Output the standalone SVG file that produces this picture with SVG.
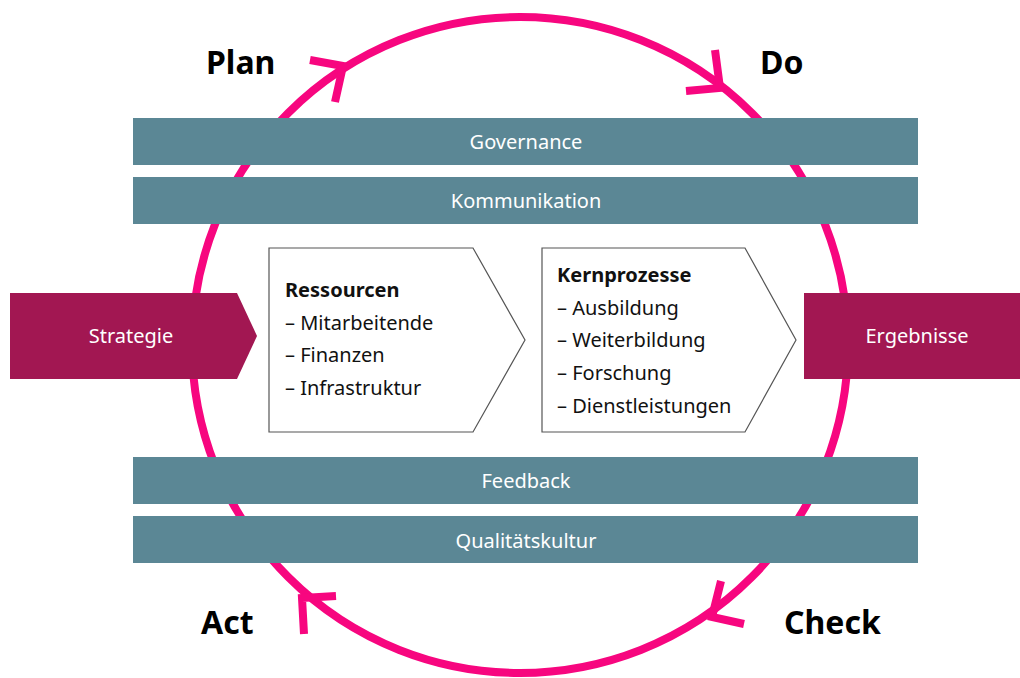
<svg xmlns="http://www.w3.org/2000/svg" width="1020" height="678" viewBox="0 0 1020 678">
<style>
.bar{fill:#5B8795;}
.barTxt{fill:#ffffff;font-family:"Noto Sans",sans-serif;font-size:20px;text-anchor:middle;}
.mag{fill:#A21752;}
.magTxt{fill:#ffffff;font-family:"Noto Sans",sans-serif;font-size:20px;text-anchor:middle;}
.box{fill:#ffffff;stroke:#555555;stroke-width:1.2;}
.boxTxt{fill:#111111;font-family:"Noto Sans",sans-serif;font-size:20px;}
.head{font-weight:bold;}
.pdca{fill:#000000;font-family:"Noto Sans",sans-serif;font-size:32px;font-weight:bold;}
.ring{fill:none;stroke:#F7067F;stroke-width:8;}
.arm{stroke:#F7067F;stroke-width:8;fill:none;stroke-linecap:butt;stroke-linejoin:miter;}
</style>
<rect width="1020" height="678" fill="#ffffff"/>
<g id="connectors">
  <circle class="ring" cx="520" cy="345" r="328"/>
  <polyline class="arm" points="310,60 343,66 335,102"/>
  <polyline class="arm" points="715,50 720,88 686,91"/>
  <polyline class="arm" points="721,581 712,617 744,624"/>
  <polyline class="arm" points="336,596 302,598 304,634"/>
</g>
<g id="plan"><text class="pdca" x="206" y="74">Plan</text></g>
<g id="do"><text class="pdca" x="760" y="74">Do</text></g>
<g id="act"><text class="pdca" x="201" y="634">Act</text></g>
<g id="check"><text class="pdca" x="784" y="634">Check</text></g>
<g id="governance"><rect class="bar" x="133" y="118" width="785" height="47"/><text class="barTxt" x="526" y="149">Governance</text></g>
<g id="kommunikation"><rect class="bar" x="133" y="177" width="785" height="47"/><text class="barTxt" x="526" y="208">Kommunikation</text></g>
<g id="feedback"><rect class="bar" x="133" y="457" width="785" height="47"/><text class="barTxt" x="526" y="488">Feedback</text></g>
<g id="qualitaetskultur"><rect class="bar" x="133" y="516" width="785" height="47"/><text class="barTxt" x="526" y="548">Qualitätskultur</text></g>
<g id="strategie"><polygon class="mag" points="10,293 237,293 257,336 237,379 10,379"/><text class="magTxt" x="131" y="343">Strategie</text></g>
<g id="ergebnisse"><rect class="mag" x="804" y="293" width="216" height="86"/><text class="magTxt" x="917" y="343">Ergebnisse</text></g>
<g id="ressourcen"><polygon class="box" points="269,248 473,248 525,340 473,432 269,432"/>
<text class="boxTxt" x="285"><tspan class="head" y="297">Ressourcen</tspan><tspan x="285" y="330">– Mitarbeitende</tspan><tspan x="285" y="362">– Finanzen</tspan><tspan x="285" y="395">– Infrastruktur</tspan></text></g>
<g id="kernprozesse"><polygon class="box" points="542,248 745,248 796,340 745,432 542,432"/>
<text class="boxTxt" x="557"><tspan class="head" y="282">Kernprozesse</tspan><tspan x="557" y="315">– Ausbildung</tspan><tspan x="557" y="347">– Weiterbildung</tspan><tspan x="557" y="380">– Forschung</tspan><tspan x="557" y="413">– Dienstleistungen</tspan></text></g>
</svg>
